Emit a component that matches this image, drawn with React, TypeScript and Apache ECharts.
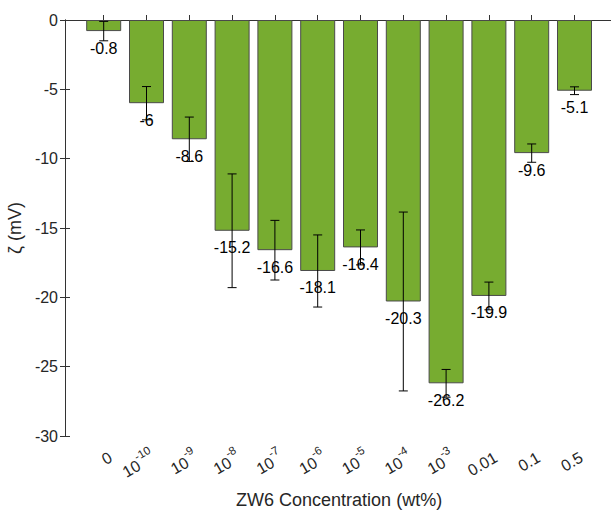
import React, { useEffect, useRef } from "react";
import * as echarts from "echarts";

const categories = ["0", "10^-10", "10^-9", "10^-8", "10^-7", "10^-6", "10^-5", "10^-4", "10^-3", "0.01", "0.1", "0.5"];
const zetaValues = [-0.8, -6, -8.6, -15.2, -16.6, -18.1, -16.4, -20.3, -26.2, -19.9, -9.6, -5.1];
const errorValues = [0.7, 1.2, 1.6, 4.1, 2.15, 2.6, 1.26, 6.45, 1.0, 1.0, 0.66, 0.28];
const yTicks = { min: -30, max: 0, interval: 5 };

const FONT = "Liberation Sans, Arial, Helvetica, sans-serif";
const AXIS_COLOR = "#333333";
const TEXT_COLOR = "#262626";

export default function App() {
  const ref = useRef<HTMLDivElement>(null);
  useEffect(() => {
    if (!ref.current) return;
    const chart = echarts.init(ref.current, undefined, { renderer: "svg" });
    const errData = zetaValues.map((v, i) => [i, v - errorValues[i], v + errorValues[i]]);
    const option: any = {
      animation: false,
      backgroundColor: "#ffffff",
      textStyle: { fontFamily: FONT },
      grid: [
        { left: 65, right: -2, top: 20, bottom: 74, outerBoundsMode: "none", containLabel: false },
        { left: 82.3, width: 513.6, top: 20, bottom: 74, outerBoundsMode: "none", containLabel: false },
      ],
      xAxis: [
        { type: "value", gridIndex: 0, min: 0, max: 1, position: "bottom",
          axisLine: { show: true, lineStyle: { color: AXIS_COLOR, width: 1 } },
          axisTick: { show: false }, axisLabel: { show: false }, splitLine: { show: false } },
        { type: "value", gridIndex: 0, min: 0, max: 1, position: "top",
          axisLine: { show: true, lineStyle: { color: AXIS_COLOR, width: 1 } },
          axisTick: { show: false }, axisLabel: { show: false }, splitLine: { show: false } },
        { type: "category", gridIndex: 1, data: categories, position: "bottom",
          axisLine: { show: false },
          axisTick: { show: true, inside: true, alignWithLabel: true, length: 5, lineStyle: { color: AXIS_COLOR } },
          axisLabel: {
            rotate: 30, margin: 8, interval: 0, align: "right", verticalAlign: "top",
            formatter: (v: string) => {
              const m = v.match(/^10\^(.*)$/);
              return m ? `{b|10}{s|${m[1]}}` : `{b|${v}}`;
            },
            rich: {
              b: { fontSize: 16, fontFamily: FONT, color: TEXT_COLOR, lineHeight: 22, verticalAlign: "bottom" },
              s: { fontSize: 11.5, fontFamily: FONT, color: TEXT_COLOR, lineHeight: 22, verticalAlign: "top" },
            },
          },
          name: "ZW6 Concentration (wt%)", nameLocation: "middle", nameGap: 55,
          nameTextStyle: { fontSize: 18, fontFamily: FONT, color: TEXT_COLOR },
        },
        { type: "category", gridIndex: 1, data: categories, position: "top",
          axisLine: { show: false },
          axisTick: { show: true, inside: true, alignWithLabel: true, length: 5, lineStyle: { color: AXIS_COLOR } },
          axisLabel: { show: false } },
      ],
      yAxis: [
        { type: "value", gridIndex: 0, ...yTicks, position: "left",
          axisLine: { show: true, lineStyle: { color: AXIS_COLOR, width: 1 } },
          axisTick: { show: true, inside: true, length: 5, lineStyle: { color: AXIS_COLOR } },
          axisLabel: { fontSize: 16, fontFamily: FONT, color: TEXT_COLOR, margin: 7 },
          splitLine: { show: false },
          name: "ζ (mV)", nameLocation: "middle", nameGap: 37, nameRotate: 90,
          nameTextStyle: { fontSize: 18, fontFamily: FONT, color: TEXT_COLOR } },
        { type: "value", gridIndex: 0, ...yTicks, position: "right",
          axisLine: { show: true, lineStyle: { color: AXIS_COLOR, width: 1 } },
          axisTick: { show: true, inside: true, length: 5, lineStyle: { color: AXIS_COLOR } },
          axisLabel: { show: false }, splitLine: { show: false } },
        { type: "value", gridIndex: 1, ...yTicks, show: false },
      ],
      series: [
        {
          type: "bar", xAxisIndex: 2, yAxisIndex: 2, data: zetaValues, barWidth: 35,
          itemStyle: { color: "#77AC30", borderColor: "#4a4a4a", borderWidth: 1 },
          label: { show: true, position: "bottom", distance: 9, fontSize: 16, fontFamily: FONT, color: "#000000" },
          z: 2,
        },
        {
          type: "custom", xAxisIndex: 2, yAxisIndex: 2, data: errData, z: 3,
          renderItem: (params: any, api: any) => {
            const x = api.value(0);
            const lo = api.coord([x, api.value(1)]);
            const hi = api.coord([x, api.value(2)]);
            const hw = 4.5;
            const style = { stroke: "#000000", lineWidth: 1 };
            return {
              type: "group",
              children: [
                { type: "line", shape: { x1: lo[0], y1: lo[1], x2: hi[0], y2: hi[1] }, style },
                { type: "line", shape: { x1: lo[0] - hw, y1: lo[1], x2: lo[0] + hw, y2: lo[1] }, style },
                { type: "line", shape: { x1: hi[0] - hw, y1: hi[1], x2: hi[0] + hw, y2: hi[1] }, style },
              ],
            };
          },
        },
      ],
    };
    chart.setOption(option);
    return () => chart.dispose();
  }, []);
  return <div ref={ref} style={{ width: 611, height: 510, position: "absolute", left: 0, top: 0 }} />;
}
